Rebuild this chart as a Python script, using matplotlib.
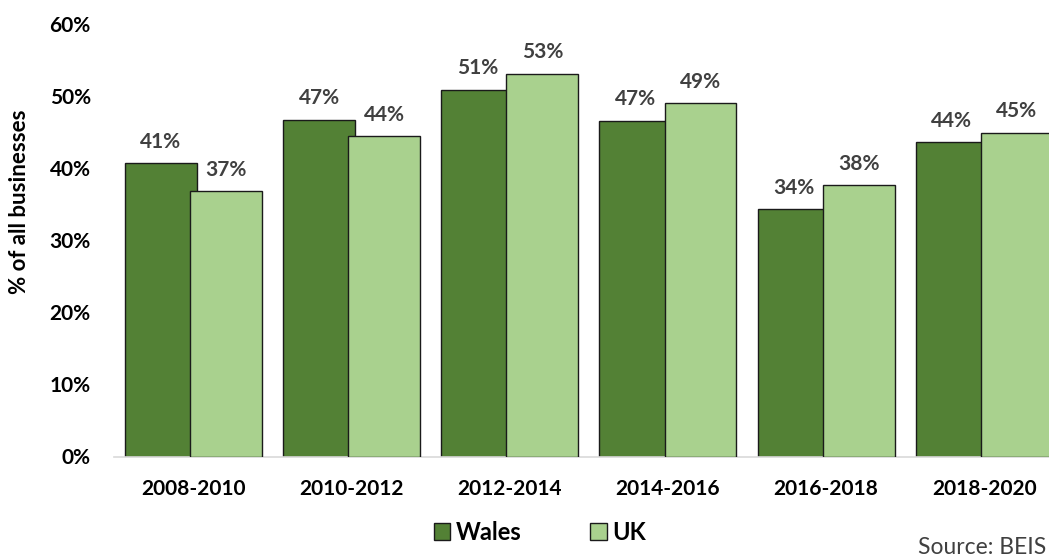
import matplotlib
matplotlib.use("Agg")
import matplotlib.pyplot as plt
from matplotlib.patches import Patch
import numpy as np

categories = ["2008-2010", "2010-2012", "2012-2014", "2014-2016", "2016-2018", "2018-2020"]
wales = [40.65, 46.7, 50.9, 46.6, 34.3, 43.6]
uk = [36.8, 44.4, 53.1, 49.0, 37.6, 44.9]
yticks = [0, 10, 20, 30, 40, 50, 60]

FONT = ["Lato", "DejaVu Sans"]
plt.rcParams['font.family'] = FONT

W_COL = "#538135"
UK_COL = "#A9D18E"

fig = plt.figure(figsize=(10.49, 5.6), dpi=100)
ax = fig.add_axes([114.4 / 1049, 1 - 456.5 / 560, 949 / 1049, (456.5 - 24) / 560])

x = np.arange(len(categories))
off = 0.2055
w = 0.455
ax.bar(x - off, wales, width=w, color=W_COL, edgecolor="#1a1a1a", linewidth=1.0, zorder=2)
ax.bar(x + off, uk, width=w, color=UK_COL, edgecolor="#1a1a1a", linewidth=1.0, zorder=3)

for xs, vals in ((x - off, wales), (x + off, uk)):
    for xi, v in zip(xs, vals):
        ax.annotate(f"{round(v):.0f}%", (xi, v), xytext=(0, 15.5), textcoords="offset points",
                    ha="center", va="center", fontsize=15, fontweight="bold", color="#404040")

ax.set_xlim(-0.5, len(categories) - 0.5)
ax.set_ylim(0, 60)
ax.set_yticks(yticks)
ax.set_yticklabels([f"{t}%" for t in yticks], fontsize=15, fontweight="bold")
ax.set_xticks(x)
ax.set_xticklabels(categories, fontsize=15, fontweight="bold")
ax.tick_params(axis="both", length=0)
ax.tick_params(axis="y", pad=17)
ax.tick_params(axis="x", pad=16)
for s in ["top", "right", "left"]:
    ax.spines[s].set_visible(False)
ax.spines["bottom"].set_color("#d9d9d9")
ax.spines["bottom"].set_linewidth(1.2)
ax.set_ylabel("% of all businesses", fontsize=16, fontweight="bold")
ax.yaxis.set_label_coords(-84 / 949, 0.588)

handles = [Patch(facecolor=W_COL, edgecolor="#1a1a1a", label="Wales"),
           Patch(facecolor=UK_COL, edgecolor="#1a1a1a", label="UK")]
leg = fig.legend(handles=handles, loc="center left", bbox_to_anchor=(417 / 1049, 1 - 532 / 560),
                 ncol=2, frameon=False, handlelength=0.7, handleheight=0.7, handletextpad=0.25,
                 columnspacing=2.9, borderpad=0.2,
                 prop={"family": FONT, "weight": "bold", "size": 17})

fig.text(1046 / 1049, 1 - 548 / 560, "Source: BEIS", ha="right", va="center",
         fontsize=16.5, color="#404040")

fig.savefig("out.png", dpi=100)
